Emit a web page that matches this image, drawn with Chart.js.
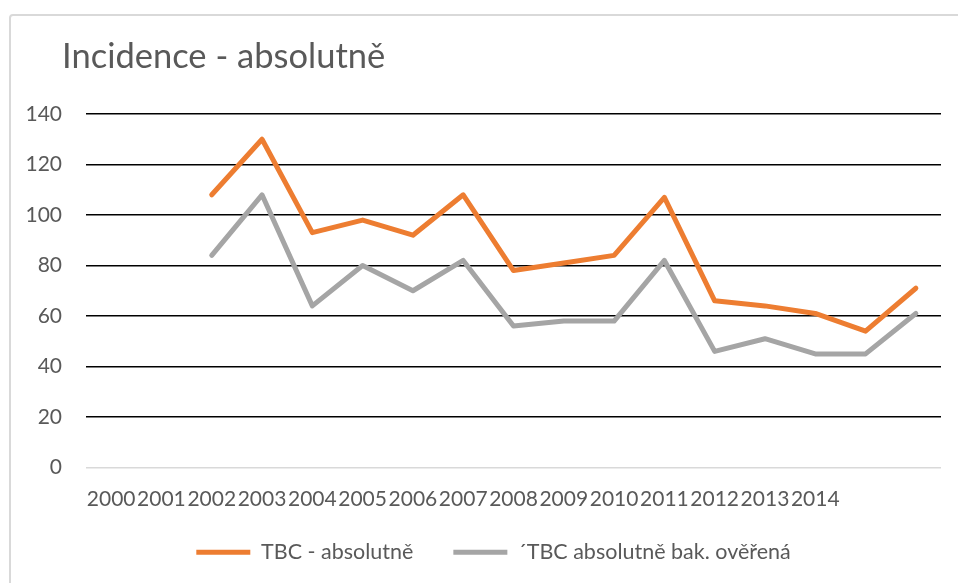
<!DOCTYPE html>
<html lang="cs">
<head>
<meta charset="utf-8">
<title>Incidence - absolutně</title>
<script src="https://cdn.jsdelivr.net/npm/chart.js@4/dist/chart.umd.min.js"></script>
<style>
  html, body { margin: 0; padding: 0; background: #fff; overflow: hidden; }
  #wrap { position: relative; width: 958px; height: 583px; }
  #frame {
    position: absolute; left: 9px; top: 14px; right: -20px; bottom: -20px;
    border: 2px solid #d9d9d9; border-radius: 4px;
  }
  #chart { position: absolute; left: 0; top: 0; }
</style>
</head>
<body>
<div id="wrap">
  <div id="frame"></div>
  <canvas id="chart" width="958" height="583"></canvas>
</div>
<script>
const years = ["2000", "2001", "2002", "2003", "2004", "2005", "2006", "2007", "2008",
  "2009", "2010", "2011", "2012", "2013", "2014", "", ""];
const tbcAbs = [null, null, 108, 130, 93, 98, 92, 108, 78, 81, 84, 107, 66, 64, 61, 54, 71];
const tbcBak = [null, null, 84, 108, 64, 80, 70, 82, 56, 58, 58, 82, 46, 51, 45, 45, 61];
const seriesNames = ["TBC - absolutně", "´TBC absolutně bak. ověřená"];
const chartTitle = "Incidence - absolutně";

const textColor = "#595959";
const fontFamily = "Lato, 'Open Sans', sans-serif";
const tickSize = 21;
const legendSize = 21.5;

// nadpis kreslíme sami, aby začínal nad popisky osy Y
const titlePlugin = {
  id: "leftTitle",
  afterDraw(chart) {
    const ctx = chart.ctx;
    ctx.save();
    ctx.font = `34.5px ${fontFamily}`;
    ctx.fillStyle = textColor;
    ctx.textBaseline = "alphabetic";
    ctx.fillText(chartTitle, 62, 68);
    ctx.restore();
  },
};

// legenda má velké mezery mezi položkami, posuneme ji blíž k ose
const legendShift = {
  id: "legendShift",
  afterLayout(chart) {
    const lg = chart.legend;
    if (!lg) return;
    lg.top -= 10;
    lg.bottom -= 10;
    lg.left += 10;
    lg.right += 10;
  },
};

new Chart(document.getElementById("chart"), {
  type: "line",
  data: {
    labels: years,
    datasets: [
      {
        label: seriesNames[0],
        data: tbcAbs,
        borderColor: "#ed7d31",
        backgroundColor: "#ed7d31",
        borderWidth: 5,
        pointRadius: 0,
        tension: 0,
        borderCapStyle: "round",
        borderJoinStyle: "round",
      },
      {
        label: seriesNames[1],
        data: tbcBak,
        borderColor: "#a5a5a5",
        backgroundColor: "#a5a5a5",
        borderWidth: 5,
        pointRadius: 0,
        tension: 0,
        borderCapStyle: "round",
        borderJoinStyle: "round",
      },
    ],
  },
  options: {
    responsive: false,
    animation: false,
    layout: { padding: { top: 114, left: 26, right: 17, bottom: 0 } },
    plugins: {
      title: { display: false },
      tooltip: { enabled: false },
      legend: {
        position: "bottom",
        labels: {
          usePointStyle: true,
          pointStyle: "line",
          pointStyleWidth: 54,
          boxHeight: 20,
          padding: 40,
          color: textColor,
          font: { family: fontFamily, size: legendSize },
        },
      },
    },
    scales: {
      x: {
        offset: true,
        grid: { display: false, drawTicks: false },
        border: { display: false },
        afterFit: (scale) => { scale.height = 44; },
        ticks: {
          autoSkip: false,
          maxRotation: 0,
          minRotation: 0,
          padding: 19,
          color: textColor,
          font: { family: fontFamily, size: tickSize },
        },
      },
      y: {
        min: 0,
        max: 140,
        border: { display: false },
        afterFit: (scale) => { scale.width = 60; },
        grid: {
          drawTicks: false,
          color: (c) => (c.tick && c.tick.value === 0 ? "#d9d9d9" : "#000"),
          lineWidth: 1.5,
        },
        ticks: {
          stepSize: 20,
          padding: 24,
          color: textColor,
          font: { family: fontFamily, size: tickSize },
        },
      },
    },
  },
  plugins: [titlePlugin, legendShift],
});
</script>
</body>
</html>
